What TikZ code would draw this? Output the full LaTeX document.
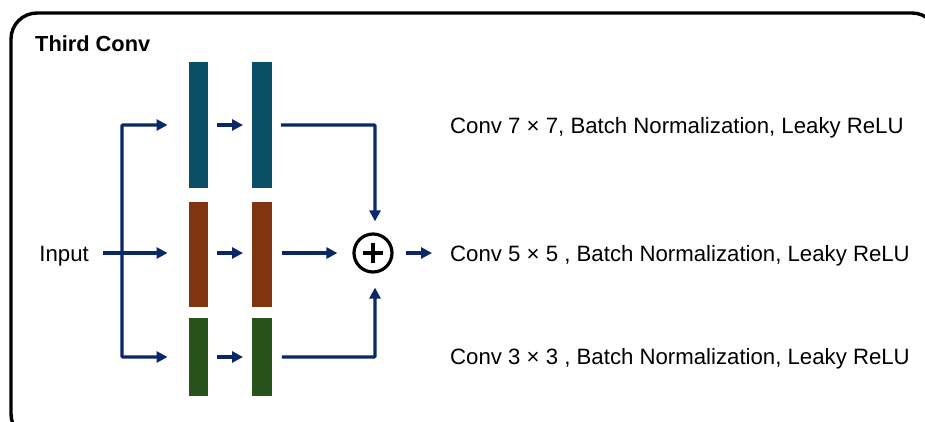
\documentclass[tikz,border=0pt]{standalone}
\usepackage{fontspec}
\setmainfont{Liberation Sans}
\usetikzlibrary{arrows.meta}
\definecolor{navy}{RGB}{10,40,105}
\definecolor{tealbar}{RGB}{11,79,103}
\definecolor{brownbar}{RGB}{128,52,16}
\definecolor{greenbar}{RGB}{40,84,28}
\tikzset{
  bar/.style={draw=none, inner sep=0pt, minimum width=19.5pt},
  arr/.style={draw=navy, line width=3.2pt, -{Triangle[length=11pt,width=11pt]}},
  lbl/.style={anchor=base west, inner sep=0pt, font=\fontsize{22.2}{26}\selectfont},
}
\begin{document}
\begin{tikzpicture}[x=1pt,y=-1pt]
\useasboundingbox (0,0) rectangle (925,421);
\begin{scope}
\clip (0,0) rectangle (925,421);
\draw[line width=3.4pt, rounded corners=26pt] (11,13) rectangle (938,440);
\end{scope}

\node[anchor=base west, inner sep=0pt, font=\fontsize{21.8}{26}\selectfont\bfseries] (title) at (35,51) {Third Conv};
\node[anchor=base east, inner sep=0pt, font=\fontsize{22.2}{26}\selectfont] (in) at (89,261) {Input};

% branch bars
\node[bar, fill=tealbar, minimum height=126pt] (t1) at (198.5,125) {};
\node[bar, fill=tealbar, minimum height=126pt] (t2) at (262,125) {};
\node[bar, fill=brownbar, minimum height=105pt] (m1) at (198.5,254.5) {};
\node[bar, fill=brownbar, minimum height=105pt] (m2) at (262,254.5) {};
\node[bar, fill=greenbar, minimum height=78pt] (b1) at (198.5,357) {};
\node[bar, fill=greenbar, minimum height=78pt] (b2) at (262,357) {};

% summation
\node[circle, draw=black, line width=3.2pt, minimum size=38pt, inner sep=0pt] (sum) at (373,253) {};
\draw[line width=3.2pt] ([xshift=-10pt]sum.center) -- ([xshift=10pt]sum.center)
  ([yshift=-10pt]sum.center) -- ([yshift=10pt]sum.center);

\coordinate (split) at (122,253);
\coordinate (tc) at (375,125);
\coordinate (bc) at (375,357);

% input and split
\draw[arr, shorten <=14pt, shorten >=21pt] (in.east |- split) -- (m1.west |- split);
\draw[arr, shorten >=21pt, rounded corners=1pt] (split) |- (t1.west);
\draw[arr, shorten >=21pt, rounded corners=1pt] (split) |- (b1.west);

% between bars
\draw[arr, shorten <=9pt, shorten >=9pt] (t1.east) -- (t2.west);
\draw[arr, shorten <=9pt, shorten >=9pt] (m1.east |- split) -- (m2.west |- split);
\draw[arr, shorten <=9pt, shorten >=9pt] (b1.east) -- (b2.west);

% into the sum
\draw[arr, shorten <=9pt, shorten >=11pt, rounded corners=1pt] (t2.east) -| (sum.north -| tc);
\draw[arr, shorten <=10pt, shorten >=15pt] (m2.east |- split) -- (sum.west);
\draw[arr, shorten <=10pt, shorten >=14pt, rounded corners=1pt] (b2.east) -| (sum.south -| bc);

% labels
\node[lbl] (l7) at (450,133) {Conv 7 × 7, Batch Normalization, Leaky ReLU};
\node[lbl] (l5) at (450,261) {Conv 5 × 5 , Batch Normalization, Leaky ReLU};
\node[lbl] (l3) at (450,364) {Conv 3 × 3 , Batch Normalization, Leaky ReLU};

\draw[arr, shorten <=12pt, shorten >=18pt] (sum.east) -- (l5.west |- sum.east);
\end{tikzpicture}
\end{document}
